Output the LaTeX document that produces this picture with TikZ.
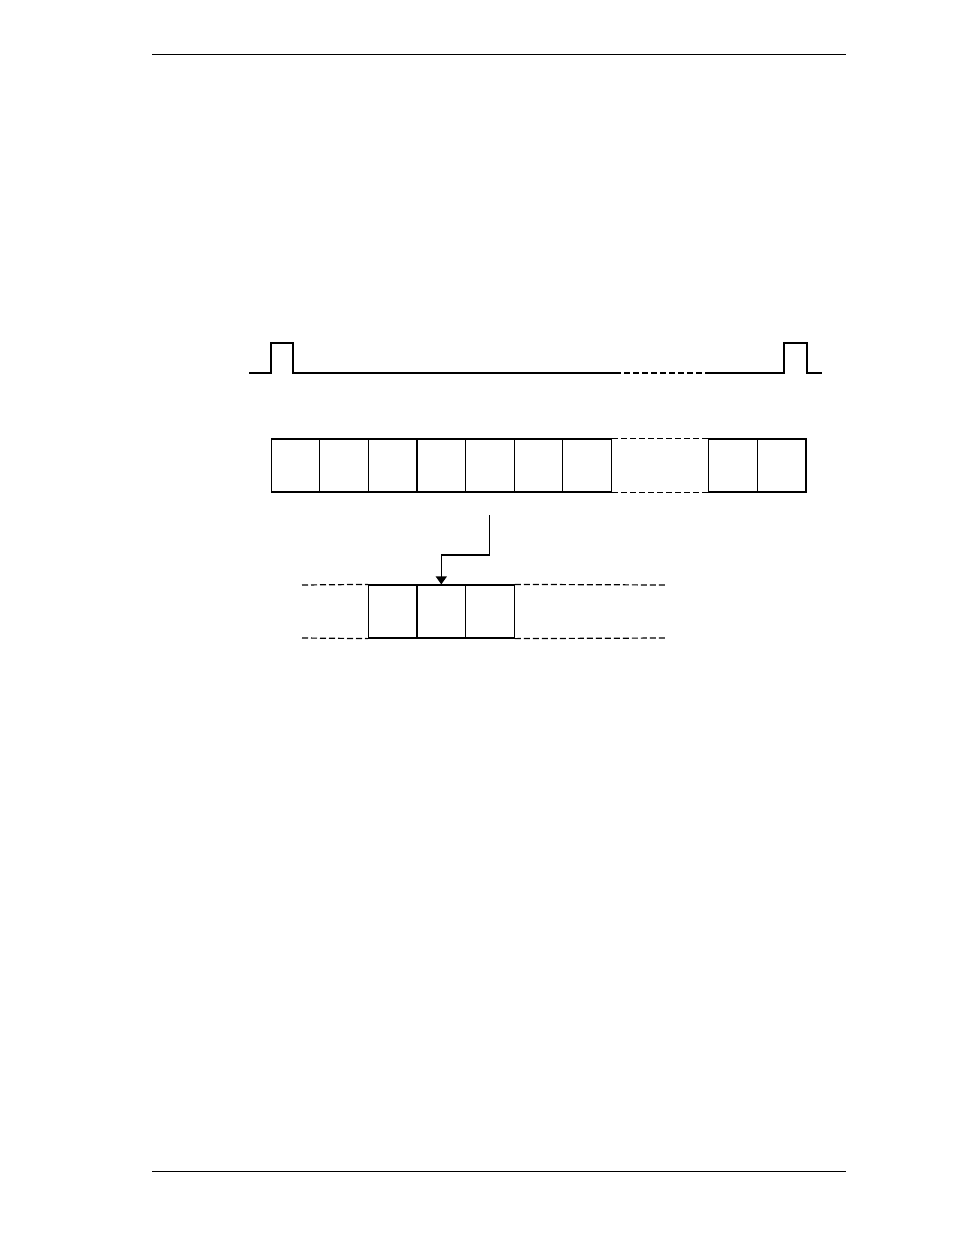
\documentclass[tikz,border=0pt]{standalone}
\usetikzlibrary{arrows.meta}
\begin{document}
\begin{tikzpicture}[x=1pt,y=-1pt,
  ln/.style={line width=1.2pt},
  dsh/.style={line width=1.2pt,dash pattern=on 6pt off 3pt},
  cell/.style={draw,line width=1.2pt,rectangle,inner sep=0pt,minimum width=48.6pt,minimum height=53pt},
  rule/.style={line width=1.4pt},
  arr/.style={line width=1.2pt,-{Triangle[width=11pt,length=8pt]}}]
\useasboundingbox (0,0) rectangle (954,1235);
% page rules
\draw[rule] (152,54.3) -- (846,54.3);
\draw[rule] (152,1171.3) -- (846,1171.3);
% pulse train
\draw[ln] (249,373) -- (271,373) -- (271,343) -- (293,343) -- (293,373) -- (615,373);
\draw[dsh] (615,373) -- (707,373);
\draw[ln] (707,373) -- (784,373) -- (784,343) -- (807,343) -- (807,373) -- (822,373);
% top row of cells
\node[cell] (b1) at (295.5,465.5) {};
\node[cell] (b2) at (344.1,465.5) {};
\node[cell] (b3) at (392.7,465.5) {};
\node[cell] (b4) at (441.3,465.5) {};
\node[cell] (b5) at (489.9,465.5) {};
\node[cell] (b6) at (538.5,465.5) {};
\node[cell] (b7) at (587.1,465.5) {};
\node[cell] (b8) at (732.8,465.5) {};
\node[cell] (b9) at (781.4,465.5) {};
\draw[dsh] (b7.north east) -- (b8.north west);
\draw[dsh] (b7.south east) -- (b8.south west);
\draw[line width=1.8pt] (b9.north east) -- (b9.south east);
% lower row of cells
\node[cell] (c1) at (392.7,611.5) {};
\node[cell] (c2) at (441.3,611.5) {};
\node[cell] (c3) at (489.9,611.5) {};
\coordinate (lf) at (302,585);
\coordinate (lfb) at (302,638);
\coordinate (rt) at (665,585);
\coordinate (rtb) at (665,638);
\draw[dsh] (lf) -- (c1.north west);
\draw[dsh] (lfb) -- (c1.south west);
\draw[dsh] (c3.north east) -- (rt);
\draw[dsh] (c3.south east) -- (rtb);
% arrow
\coordinate (src) at (489.5,515);
\coordinate (bend) at (489.5,555);
\draw[arr] (src) -- (bend) -| (c2.north);
\end{tikzpicture}
\end{document}
